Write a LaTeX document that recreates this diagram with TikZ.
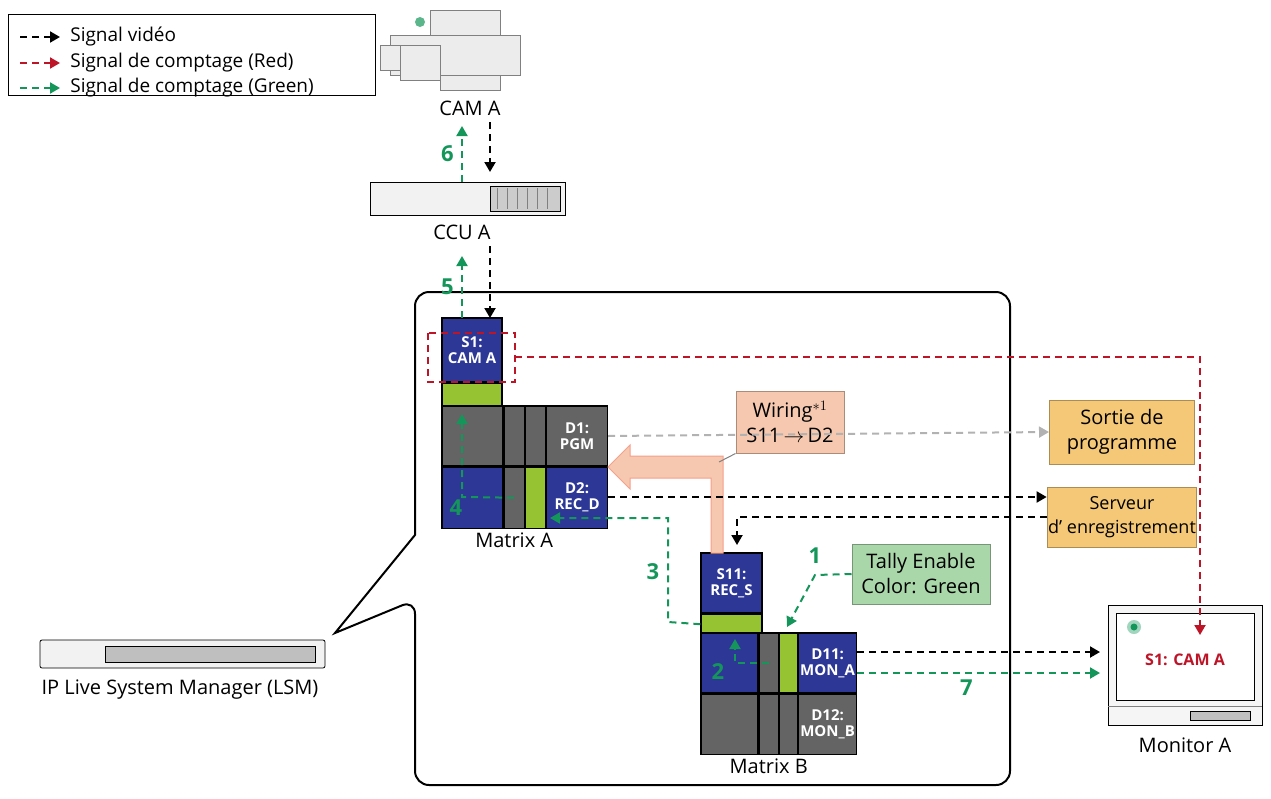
\documentclass[tikz,border=0pt]{standalone}
\usepackage{fontspec}
\setmainfont{Open Sans}
\usetikzlibrary{arrows.meta,positioning,shapes.arrows}
\definecolor{tgreen}{RGB}{20,150,90}
\definecolor{tred}{RGB}{190,20,40}
\definecolor{mblue}{RGB}{45,55,150}
\definecolor{mgray}{RGB}{100,100,100}
\definecolor{mlime}{RGB}{150,195,50}
\definecolor{obox}{RGB}{245,200,120}
\definecolor{wbox}{RGB}{245,200,175}
\definecolor{gbox}{RGB}{170,215,170}
\tikzset{
  sig/.style={dashed,line width=2pt,dash pattern=on 7pt off 5pt,-{Triangle[length=10pt,width=11pt]}},
  vid/.style={sig,black},
  red sig/.style={sig,tred},
  green sig/.style={sig,tgreen},
  cell/.style={draw=black,line width=1.2pt,minimum width=#1,inner sep=0pt,text=white,align=center,font=\fontsize{15}{16}\selectfont\bfseries},
  num/.style={text=tgreen,font=\fontsize{22}{24}\selectfont\bfseries},
  lbl/.style={font=\fontsize{20}{22}\selectfont},
  box/.style={draw=#1!70!black,line width=1pt,align=center,font=\fontsize{20}{25}\selectfont,inner sep=3pt},
}
\begin{document}
\begin{tikzpicture}[x=1pt,y=-1pt]
\useasboundingbox (0,0) rectangle (1271,798);
% legend
\draw[line width=0.8pt] (8,14) rectangle (375,95);
\foreach \y/\s/\t in {37/vid/Signal vidéo,63/red sig/Signal de comptage (Red),88/green sig/Signal de comptage (Green)}
  \draw[\s] (20,\y) -- (60,\y) node[right=6pt,text=black,font=\fontsize{19}{21}\selectfont]{\t};
% camera
\begin{scope}[line width=0.8pt,draw=gray,fill=gray!15]
  \filldraw (390,35) rectangle (520,75);
  \filldraw (400,45) rectangle (440,80);
  \filldraw (380,45) rectangle (400,70);
  \filldraw (430,10) rectangle (500,35);
  \filldraw (440,75) rectangle (500,90);
\end{scope}
\fill[tgreen!70] (420,22) circle (5pt);
\node[lbl] (camA) at (470,108) {CAM A};
% CCU
\draw[line width=0.8pt,fill=gray!10] (370,182) rectangle (565,215);
\draw[fill=gray!40] (490,186) rectangle (560,211);
\foreach \x in {497,507,...,553} \draw[gray] (\x,188) -- (\x,209);
\node[lbl] (ccuA) at (462,232) {CCU A};
\coordinate (ccuT) at (462,182);
% bubble
\draw[line width=2pt,rounded corners=14] (415,535) -- (415,292) -- (1010,292) -- (1010,785) -- (415,785) -- (415,600) [sharp corners] -- (335,633) -- cycle;
% LSM
\draw[line width=0.8pt,fill=gray!10,rounded corners=2] (40,640) rectangle (325,668);
\draw[fill=gray!50] (105,646) rectangle (315,662);
\node[lbl] (lsm) at (180,690) {IP Live System Manager (LSM)};
% Matrix A
\node[cell=60pt,fill=mblue,minimum height=64pt] (s1) at (472,350) {S1:\\CAM A};
\node[cell=60pt,fill=mlime,minimum height=23pt,below=0pt of s1] (s1g) {};
\node[cell=61pt,fill=mgray,minimum height=60pt] (a11) at (472.5,436) {};
\node[cell=20pt,fill=mgray,minimum height=60pt,right=0pt of a11] (a12) {};
\node[cell=20pt,fill=mgray,minimum height=60pt,right=0pt of a12] (a13) {};
\node[cell=61pt,fill=mgray,minimum height=60pt,right=0pt of a13] (d1) {D1:\\PGM};
\node[cell=61pt,fill=mblue,minimum height=61pt,below=0pt of a11] (a21) {};
\node[cell=20pt,fill=mgray,minimum height=61pt,right=0pt of a21] (a22) {};
\node[cell=20pt,fill=mlime,minimum height=61pt,right=0pt of a22] (a23) {};
\node[cell=61pt,fill=mblue,minimum height=61pt,right=0pt of a23] (d2) {D2:\\REC\_D};
\node[lbl,below=0pt of a22] (matA) {Matrix A};
\draw[tred,line width=2pt,dash pattern=on 7pt off 5pt] (428,333) rectangle (515,382);
% Matrix B
\node[cell=61pt,fill=mblue,minimum height=60pt] (s11) at (731.5,583) {S11:\\REC\_S};
\node[cell=61pt,fill=mlime,minimum height=20pt,below=0pt of s11] (s11g) {};
\node[cell=57pt,fill=mblue,minimum height=60pt] (b11) at (729.5,663) {};
\node[cell=19pt,fill=mgray,minimum height=60pt,right=0pt of b11] (b12) {};
\node[cell=18pt,fill=mlime,minimum height=60pt,right=0pt of b12] (b13) {};
\node[cell=58pt,fill=mblue,minimum height=60pt,right=0pt of b13] (d11) {D11:\\MON\_A};
\node[cell=57pt,fill=mgray,minimum height=60pt,below=0pt of b11] (b21) {};
\node[cell=19pt,fill=mgray,minimum height=60pt,right=0pt of b21] (b22) {};
\node[cell=18pt,fill=mgray,minimum height=60pt,right=0pt of b22] (b23) {};
\node[cell=58pt,fill=mgray,minimum height=60pt,right=0pt of b23] (d12) {D12:\\MON\_B};
\node[lbl,below=0pt of b22] (matB) {Matrix B};
% boxes
\node[box=wbox,fill=wbox,minimum width=108pt,minimum height=62pt] (wiring) at (790,422) {Wiring$^{*1}$\\S11\,$\rightarrow$\,D2};
\node[box=obox,fill=obox,minimum width=145pt,minimum height=64pt] (sortie) at (1122,432) {Sortie de\\programme};
\node[box=obox,fill=obox,minimum width=145pt,minimum height=60pt,font=\fontsize{18}{24}\selectfont,inner sep=1pt] (serveur) at (1122,517) {Serveur\\d' enregistrement};
\node[box=gbox,fill=gbox,minimum width=138pt,minimum height=60pt] (tally) at (921,574) {Tally Enable\\Color: Green};
% monitor
\draw[line width=0.8pt,fill=gray!8] (1108,605) rectangle (1262,725);
\draw[line width=0.8pt,fill=white] (1116,613) rectangle (1254,700);
\draw[gray] (1108,706) -- (1262,706);
\draw[fill=gray!50] (1190,711) rectangle (1250,720);
\node[text=tred,font=\fontsize{16}{18}\selectfont\bfseries] (mon) at (1185,660) {S1: CAM A};
\fill[tgreen!40] (1134,627) circle (7pt);
\fill[tgreen] (1134,627) circle (3.5pt);
\node[lbl] (monA) at (1185,745) {Monitor A};
% wiring arrow
\draw[draw=wbox!80!red,fill=wbox,line width=1pt] (711,553) -- (711,478) -- (630,478) -- (630,489) -- (608,467) -- (630,445) -- (630,456) -- (723,456) -- (723,553) -- cycle;
\draw[gray,line width=1pt] (wiring.south west) -- (719,462);
% video
\draw[vid] (490,122) -- (490,172);
\draw[vid] (490,246) -- (490,318);
\draw[vid] (d2.east |- 0,497) -- (serveur.west |- 0,497);
\draw[vid] (serveur.west) -- (737,517) -- (737,545);
\draw[vid] (d11.east |- 0,652) -- (1100,652);
\draw[sig,gray!60] (d1.east) -- (sortie.west);
% red
\draw[red sig] (515,357) -- (1200,357) -- (1200,635);
% green
\draw[green sig] (ccuT) -- (462,126) node[num,midway,left=4pt]{6};
\draw[green sig] (462,318) -- (462,256) node[num,midway,left=4pt]{5};
\draw[green sig] (a22.center) -- (462,497) -- (462,414);
\node[num] at (456,508) {4};
\draw[green sig] (s11g.west) -- (668,622) -- (668,518) -- (550,518);
\node[num] at (653,572) {3};
\draw[green sig] (b12.center) -- (735,663) -- (735,639);
\node[num] at (718,672) {2};
\draw[green sig] (tally.west) -- (815,575) -- (787,627);
\node[num] at (815,556) {1};
\draw[green sig] (d11.east |- 0,673) -- (1100,673) node[num,pos=0.45,below=2pt]{7};
\end{tikzpicture}
\end{document}
